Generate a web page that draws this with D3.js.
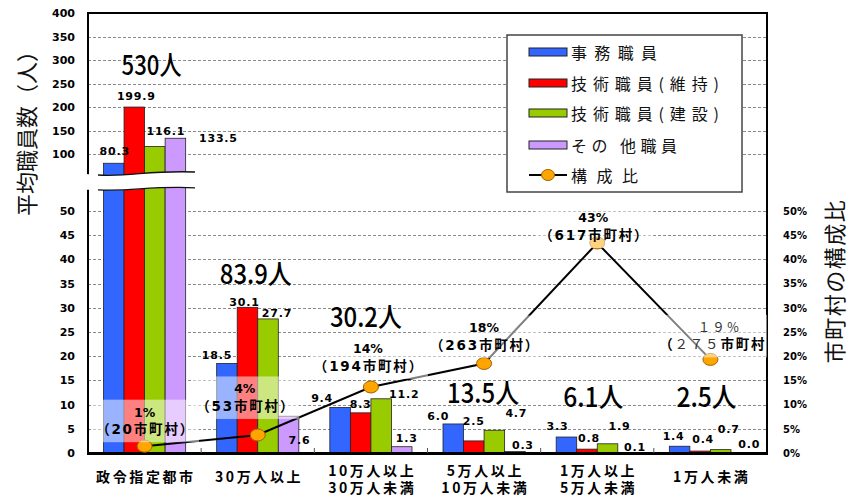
<!DOCTYPE html>
<html>
<head>
<meta charset="utf-8">
<script src="https://cdn.jsdelivr.net/npm/d3@7"></script>
<style>
  html, body { margin: 0; padding: 0; background: #fff; }
  svg { display: block; }
</style>
</head>
<body>
<svg id="chart" width="848" height="496"></svg>
<script>
// ---- data -------------------------------------------------------------
const categories = ["政令指定都市", "30万人以上", "10万人以上\n30万人未満", "5万人以上\n10万人未満", "1万人以上\n5万人未満", "1万人未満"];
const seriesNames = ["事務職員", "技術職員(維持)", "技術職員(建設)", "その 他職員"];
const jimu            = [80.3, 18.5, 9.4, 6.0, 3.3, 1.4];
const gijutsuIji      = [199.9, 30.1, 8.3, 2.5, 0.8, 0.4];
const gijutsuKensetsu = [116.1, 27.7, 11.2, 4.7, 1.9, 0.7];
const sonota          = [133.5, 7.6, 1.3, 0.3, 0.1, 0.0];
const municipalityCounts = [20, 53, 194, 263, 617, 275];
const lineName = "構成比";
const lowerTicks = [0, 5, 10, 15, 20, 25, 30, 35, 40, 45, 50];
const upperTicks = [100, 150, 200, 250, 300, 350, 400];
const shareTicks = [0, 5, 10, 15, 20, 25, 30, 35, 40, 45, 50];
const leftTitle = "平均職員数（人）";
const rightTitle = "市町村の構成比";

// ---- layout / style ---------------------------------------------------
const plot = { left: 88, right: 767, top: 13, bottom: 453 };
const lowTopY = 211, highBottomY = 154;        // pixel rows of 50 and 100 on the broken axis
const breakLow = 55, breakHigh = 57.4;         // axis values where the lower / upper segments stop
const colors = ["#3366ff", "#ff0000", "#99cc00", "#cc99ff"];
const numFont = "'DejaVu Sans', 'Noto Sans CJK JP', sans-serif";
const jpFont = "'Noto Sans CJK JP', 'Noto Sans', sans-serif";
// value label offsets from the top centre of each bar [dx, dy]
const barLabelNudge = [
  [[1, -8], [2, -7], [11, -11], [43, 4]],
  [[-10, -4], [-3, -1], [9, -2], [11, 28]],
  [[-18, -6], [0, -5], [23, -1], [5, -5]],
  [[-15, -4], [0, -16], [22, -13], [8, -3]],
  [[-9, -7], [2, -7], [12, -14], [7, -2]],
  [[-6, -6], [3, -8], [8, -17], [8, -5]]
];
// group totals: axis level of the baseline and horizontal shift
const totalLabelLevel = [268, 35, 26, 10.3, 9.5, 9.5];
const totalLabelDx = [7, -2, -5, -1, -4, -4];
// share labels: offset of the second line's baseline from the point
const shareLabelNudge = [[0, -12], [-13, -24], [-3, -16], [0, -13.5], [-4, -3], [9, -10]];
const fullWidthDigits = [false, false, false, false, false, true];

const svg = d3.select("#chart");

// ---- scales -----------------------------------------------------------
// broken value axis: 0–55 on the lower segment, 57.4–400 on the compressed upper one
const lowSlope = (plot.bottom - lowTopY) / 50;
const highSlope = (highBottomY - plot.top) / 300;
const y = d3.scaleLinear()
  .domain([0, breakLow, breakHigh, 400])
  .range([plot.bottom, plot.bottom - breakLow * lowSlope, highBottomY + (100 - breakHigh) * highSlope, plot.top]);
const yR = d3.scaleLinear().domain([0, 50]).range([plot.bottom, lowTopY]);
const x0 = d3.scaleBand().domain(d3.range(categories.length)).range([plot.left, plot.right]);
const x1 = d3.scaleBand().domain(d3.range(seriesNames.length)).range([15.5, x0.bandwidth() - 15.5]);
const cx = g => x0(g) + x0.bandwidth() / 2;

const seriesValues = [jimu, gijutsuIji, gijutsuKensetsu, sonota];
const totalMunicipalities = d3.sum(municipalityCounts);
const shares = municipalityCounts.map(c => c / totalMunicipalities * 100);

const toFull = s => s.replace(/[0-9]/g, ch => String.fromCharCode(ch.charCodeAt(0) + 0xFEE0)).replace(/%/g, "％");

// ---- grid -------------------------------------------------------------
const gridVals = lowerTicks.filter(v => v > 0).concat(upperTicks.filter(v => v < 400));
svg.append("g").selectAll("line").data(gridVals).join("line")
  .attr("x1", plot.left).attr("x2", plot.right)
  .attr("y1", d => Math.round(y(d)) + 0.5).attr("y2", d => Math.round(y(d)) + 0.5)
  .attr("stroke", "#8a8a8a").attr("stroke-width", 1).attr("stroke-dasharray", "3,2");

// ---- bars -------------------------------------------------------------
const barData = [];
categories.forEach((c, g) => seriesValues.forEach((vals, s) => barData.push({ g, s, v: vals[g] })));

svg.append("g").selectAll("rect").data(barData).join("rect")
  .attr("x", d => x0(d.g) + x1(d.s))
  .attr("y", d => y(d.v))
  .attr("width", x1.bandwidth())
  .attr("height", d => y(0) - y(d.v))
  .attr("fill", d => colors[d.s])
  .attr("stroke", "#222").attr("stroke-width", 0.8);

// ---- frame ------------------------------------------------------------
svg.append("rect")
  .attr("x", plot.left).attr("y", plot.top)
  .attr("width", plot.right - plot.left).attr("height", plot.bottom - plot.top)
  .attr("fill", "none").attr("stroke", "#000").attr("stroke-width", 2);
svg.append("line")
  .attr("x1", plot.left - 1).attr("x2", plot.right + 1)
  .attr("y1", plot.bottom + 0.5).attr("y2", plot.bottom + 0.5)
  .attr("stroke", "#000").attr("stroke-width", 3);
// small category separators on the bottom axis
svg.append("g").selectAll("line").data(d3.range(1, categories.length)).join("line")
  .attr("x1", g => x0(g)).attr("x2", g => x0(g))
  .attr("y1", plot.bottom - 5).attr("y2", plot.bottom)
  .attr("stroke", "#555").attr("stroke-width", 1);

// ---- axis break -------------------------------------------------------
const bt = y(breakHigh), bb = y(breakLow) + 2;
const bx0 = plot.left - 2, bx1 = x0(0) + x1(3) + x1.bandwidth() + 11;
svg.append("path")
  .attr("d", `M${bx0},${bt} L98,${bt + 1} C130,${bt + 3} 150,${bt - 4} 195,${bt - 2} L${bx1},${bt - 2}
              L${bx1},${bb - 1} L195,${bb - 1} C150,${bb - 3} 130,${bb + 3} 98,${bb + 1} L${bx0},${bb + 1} Z`)
  .attr("fill", "#fff");
svg.append("path")
  .attr("d", `M98,${bt + 1} C130,${bt + 3} 150,${bt - 4} 195,${bt - 2}`)
  .attr("fill", "none").attr("stroke", "#111").attr("stroke-width", 1.3);
svg.append("path")
  .attr("d", `M98,${bb + 1} C130,${bb + 3} 150,${bb - 3} 195,${bb - 1}`)
  .attr("fill", "none").attr("stroke", "#111").attr("stroke-width", 1.3);

// ---- axes -------------------------------------------------------------
svg.append("g").attr("transform", `translate(${plot.left},0)`)
  .call(d3.axisLeft(y).tickValues(lowerTicks.concat(upperTicks)).tickSize(0).tickPadding(13).tickFormat(d3.format("d")))
  .call(g => g.select(".domain").remove())
  .selectAll("text")
  .attr("font-family", numFont).attr("font-weight", "bold").attr("font-size", 11).attr("fill", "#000");

svg.append("g").attr("transform", `translate(${plot.right},0)`)
  .call(d3.axisRight(yR).tickValues(shareTicks).tickSize(0).tickPadding(16).tickFormat(d => d + "%"))
  .call(g => g.select(".domain").remove())
  .selectAll("text")
  .attr("font-family", numFont).attr("font-weight", "bold").attr("font-size", 10).attr("fill", "#000");

// axis titles
svg.append("text")
  .attr("transform", "translate(25,128) rotate(-90)")
  .attr("text-anchor", "middle").attr("dominant-baseline", "central")
  .attr("font-family", jpFont).attr("font-size", 22).attr("fill", "#111")
  .text(leftTitle);
svg.append("text")
  .attr("transform", "translate(833,281) rotate(-90)")
  .attr("text-anchor", "middle").attr("dominant-baseline", "central")
  .attr("font-family", jpFont).attr("font-size", 22).attr("letter-spacing", 1.5).attr("fill", "#111")
  .text(rightTitle);

// category labels
const catG = svg.append("g")
  .attr("font-family", jpFont).attr("font-weight", "bold").attr("font-size", 14).attr("fill", "#000");
categories.forEach((c, g) => {
  const lines = c.split("\n");
  const t = catG.append("text").attr("text-anchor", "middle").attr("letter-spacing", 2.6);
  lines.forEach((ln, k) => {
    t.append("tspan")
      .attr("x", cx(g) + 1.3)
      .attr("y", lines.length === 1 ? 482 : 476 + k * 17)
      .text(ln);
  });
});

// ---- bar value labels -------------------------------------------------
svg.append("g").selectAll("text").data(barData).join("text")
  .attr("x", d => x0(d.g) + x1(d.s) + x1.bandwidth() / 2 + barLabelNudge[d.g][d.s][0])
  .attr("y", d => y(d.v) + barLabelNudge[d.g][d.s][1])
  .attr("text-anchor", "middle")
  .attr("font-family", numFont).attr("font-weight", "bold").attr("font-size", 11)
  .attr("letter-spacing", 0.8).attr("fill", "#000")
  .text(d => d3.format(".1f")(d.v));

// ---- group totals -----------------------------------------------------
const totals = categories.map((c, g) => d3.sum(seriesValues, vals => vals[g]));
svg.append("g").selectAll("text").data(totals).join("text")
  .attr("x", (d, g) => cx(g) + totalLabelDx[g])
  .attr("y", (d, g) => y(totalLabelLevel[g]))
  .attr("text-anchor", "middle")
  .attr("font-family", jpFont).attr("font-weight", 500).attr("font-size", 27).attr("fill", "#000")
  .text((d, g) => (g === 0 ? String(Math.round(d)) : d.toFixed(1)) + "人")
  .each(function () {
    const s = this.textContent;
    const w = Array.from(s).reduce((a, ch) => a + (/[\u3000-\uffff]/.test(ch) ? 24 : 12), 0);
    d3.select(this).attr("textLength", w).attr("lengthAdjust", "spacingAndGlyphs");
  });

// ---- share line -------------------------------------------------------
const line = d3.line().x((d, i) => cx(i)).y(d => yR(d));
svg.append("path").datum(shares)
  .attr("d", line).attr("fill", "none").attr("stroke", "#000").attr("stroke-width", 2);
svg.append("g").selectAll("ellipse").data(shares).join("ellipse")
  .attr("cx", (d, i) => cx(i)).attr("cy", d => yR(d))
  .attr("rx", 7.5).attr("ry", 6)
  .attr("fill", "#ffa500").attr("stroke", "#a55f00").attr("stroke-width", 1);

// ---- share labels -----------------------------------------------------
svg.append("clipPath").attr("id", "plotClip").append("rect")
  .attr("x", plot.left).attr("y", plot.top)
  .attr("width", plot.right - plot.left).attr("height", plot.bottom - plot.top);
const shareLabels = svg.append("g").attr("clip-path", "url(#plotClip)");

function addRuns(textSel, str) {
  const runs = str.match(/[０-９％]+|[^０-９％]+/g);
  runs.forEach(r => textSel.append("tspan")
    .attr("font-weight", /[０-９％]/.test(r) ? "normal" : "bold")
    .attr("fill", /[０-９％]/.test(r) ? "#333" : "#000")
    .text(r));
}

shares.forEach((sh, i) => {
  const px = cx(i) + shareLabelNudge[i][0];
  const py = yR(sh) + shareLabelNudge[i][1];
  const pct = Math.round(sh) + "%";
  const cnt = `（${municipalityCounts[i]}市町村）`;
  const g = shareLabels.append("g");
  const bg = g.append("rect").attr("fill", "#fff").attr("fill-opacity", 0.5);
  const t1 = g.append("text").attr("x", px).attr("y", py - 17.5).attr("text-anchor", "middle")
    .attr("font-family", numFont).attr("font-size", 12.5).attr("letter-spacing", fullWidthDigits[i] ? 2 : 0);
  addRuns(t1, fullWidthDigits[i] ? toFull(pct) : pct);
  const t2 = g.append("text").attr("x", px + 1).attr("y", py).attr("text-anchor", "middle")
    .attr("font-family", numFont).attr("font-size", 13.5).attr("letter-spacing", 1.8);
  addRuns(t2, fullWidthDigits[i] ? toFull(cnt) : cnt);
  const b1 = t1.node().getBBox(), b2 = t2.node().getBBox();
  const xMin = Math.min(b1.x, b2.x) - 4, xMax = Math.max(b1.x + b1.width, b2.x + b2.width) + 4;
  const yMin = b1.y - 5, yMax = b2.y + b2.height + 5;
  bg.attr("x", xMin).attr("y", yMin).attr("width", xMax - xMin).attr("height", yMax - yMin);
});

// ---- legend -----------------------------------------------------------
const legend = svg.append("g").attr("transform", "translate(507,35)");
legend.append("rect").attr("width", 235).attr("height", 157)
  .attr("fill", "#fff").attr("stroke", "#444").attr("stroke-width", 1.5);
const legendRows = [17, 48, 78, 110, 140];
const legendWidths = [86, 148, 148, 106, 67];
seriesNames.forEach((name, s) => {
  legend.append("rect").attr("x", 22).attr("y", legendRows[s] - 4).attr("width", 38).attr("height", 8)
    .attr("fill", colors[s]).attr("stroke", "#222").attr("stroke-width", 1);
});
legend.append("line").attr("x1", 22).attr("x2", 60)
  .attr("y1", legendRows[4]).attr("y2", legendRows[4]).attr("stroke", "#000").attr("stroke-width", 2);
legend.append("ellipse").attr("cx", 41).attr("cy", legendRows[4]).attr("rx", 6.5).attr("ry", 5.5)
  .attr("fill", "#ffa500").attr("stroke", "#a55f00").attr("stroke-width", 1);
seriesNames.concat([lineName]).forEach((name, k) => {
  legend.append("text").attr("x", 64).attr("y", legendRows[k]).attr("dominant-baseline", "central")
    .attr("font-family", jpFont).attr("font-size", 16).attr("fill", "#111")
    .attr("textLength", legendWidths[k]).attr("lengthAdjust", "spacing")
    .text(name);
});
</script>
</body>
</html>
